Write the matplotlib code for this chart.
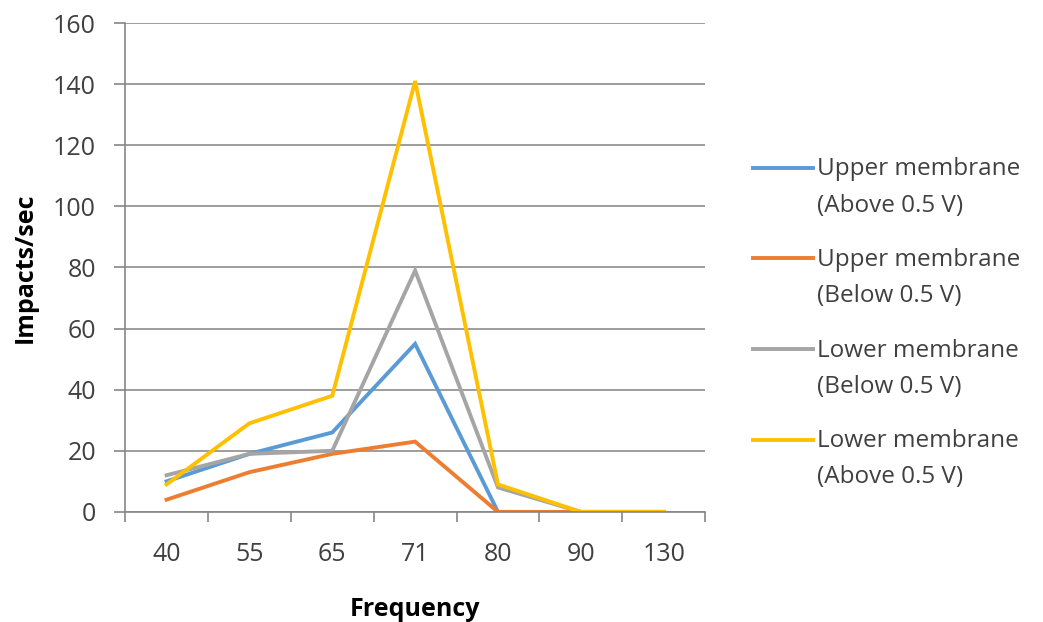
import numpy as np
import matplotlib.pyplot as plt
from matplotlib.legend_handler import HandlerLine2D

# data
freqs = ['40', '55', '65', '71', '80', '90', '130']
upper_above = [10, 19, 26, 55, 0, 0, 0]
upper_below = [4, 13, 19, 23, 0, 0, 0]
lower_below = [12, 19, 20, 79, 8, 0, 0]
lower_above = [9, 29, 38, 141, 9, 0, 0]

labels = ['Upper membrane\n(Above 0.5 V)', 'Upper membrane\n(Below 0.5 V)',
          'Lower membrane\n(Below 0.5 V)', 'Lower membrane\n(Above 0.5 V)']
colors = ['#5B9BD5', '#ED7D31', '#A5A5A5', '#FFC000']

plt.rcParams['font.family'] = ['Open Sans', 'DejaVu Sans']


# excel puts the legend line next to the first text line
class FirstLineHandler(HandlerLine2D):
    shift = 14.5

    def create_artists(self, legend, orig_handle, xdescent, ydescent,
                       width, height, fontsize, trans):
        arts = super().create_artists(legend, orig_handle, xdescent, ydescent,
                                      width, height, fontsize, trans)
        for a in arts:
            a.set_ydata(np.asarray(a.get_ydata()) + self.shift)
        return arts


fig = plt.figure(figsize=(10.43, 6.22), dpi=100)
ax = fig.add_axes([0.12, 0.177, 0.556, 0.786])

x = range(len(freqs))
lines = []
for ys, lab, c in zip([upper_above, upper_below, lower_below, lower_above], labels, colors):
    ln, = ax.plot(x, ys, color=c, lw=2.8, label=lab, solid_joinstyle='miter')
    lines.append(ln)

ax.set_ylim(0, 160)
ax.set_yticks(range(0, 161, 20))
ax.set_xlim(-0.5, len(freqs) - 0.5)
ax.set_xticks([i - 0.5 for i in range(len(freqs) + 1)])
ax.set_xticklabels([])
ax.set_xticks(list(x), minor=True)
ax.set_xticklabels(freqs, minor=True)
ax.tick_params(axis='x', which='minor', length=0, pad=22)
ax.tick_params(axis='x', which='major', length=7.5, width=1.2, color='#868686', direction='out')
ax.tick_params(axis='y', length=8, width=1.2, color='#868686', direction='out', pad=13)
ax.tick_params(which='both', labelsize=18, labelcolor='#404040')

ax.grid(axis='y', color='#8c8c8c', lw=1.2)
ax.set_axisbelow(True)
for s in ['top', 'right']:
    ax.spines[s].set_visible(False)
for s in ['left', 'bottom']:
    ax.spines[s].set_color('#868686')
    ax.spines[s].set_linewidth(1.2)

ax.set_xlabel('Frequency', fontsize=18, fontweight='bold')
ax.set_ylabel('Impacts/sec', fontsize=18, fontweight='bold')
ax.xaxis.set_label_coords(0.5, -0.2)
ax.xaxis.label.set_verticalalignment('center')
ax.yaxis.set_label_coords(-0.172, 0.5)
ax.yaxis.label.set_verticalalignment('center')

leg = ax.legend(handles=lines, loc='center left', bbox_to_anchor=(0.701, 0.48),
                bbox_transform=fig.transFigure, frameon=False,
                fontsize=17.5, handlelength=2.45, handletextpad=0.2, labelspacing=1.25,
                labelcolor='#404040',
                handler_map={ln: FirstLineHandler() for ln in lines})
for t in leg.get_texts():
    t.set_linespacing(1.68)

fig.savefig('out.png', dpi=100)
